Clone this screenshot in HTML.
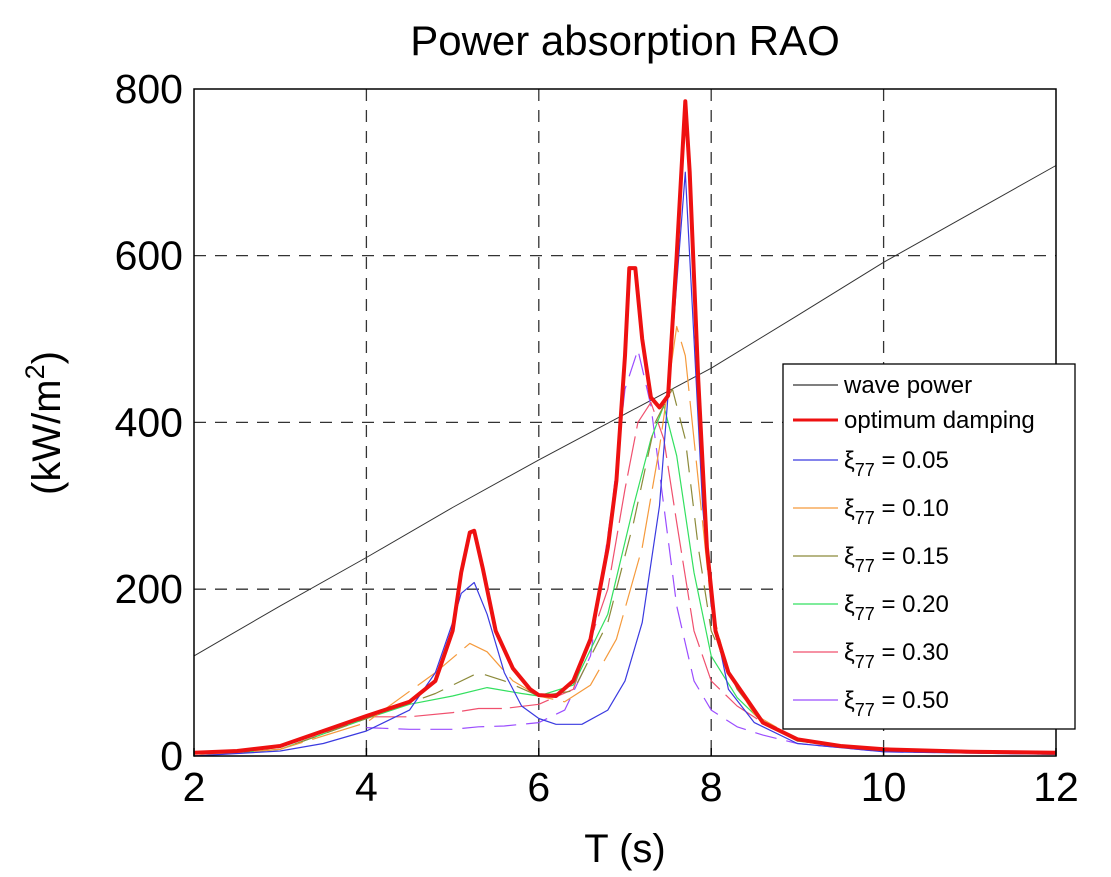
<!DOCTYPE html>
<html><head><meta charset="utf-8"><style>
body{margin:0;background:#fff;}
svg{display:block;font-family:"Liberation Sans",sans-serif;}
</style></head><body>
<svg id="chart" width="1111" height="877" viewBox="0 0 1111 877" xmlns="http://www.w3.org/2000/svg">
<text x="625" y="55" font-size="42" text-anchor="middle">Power absorption RAO</text>
<g id="grid"></g>
<g id="series"></g>
<rect x="194" y="89" width="862" height="667" fill="none" stroke="#000" stroke-width="1.5"/>
<g id="ticks"></g>
<text x="625" y="862" font-size="40" text-anchor="middle">T (s)</text>
<text transform="translate(60,423) rotate(-90)" font-size="40" text-anchor="middle">(kW/m<tspan font-size="27" dy="-16">2</tspan><tspan dy="16">)</tspan></text>
<g id="legend"></g>
</svg>
<script>
const xTicks=[2,4,6,8,10,12];
const yTicks=[0,200,400,600,800];
const tWave=[2,3,4,5,6,7,8,9,10,11,12];
const vWave=[120,180,238,298,355,410,465,528,592,650,708];
const tOpt=[2,2.5,3,3.5,4,4.5,4.8,5.0,5.1,5.2,5.25,5.35,5.5,5.7,5.9,6.0,6.2,6.4,6.6,6.8,6.9,7.0,7.05,7.12,7.2,7.3,7.4,7.5,7.6,7.7,7.75,7.85,7.95,8.05,8.2,8.4,8.6,9,9.5,10,11,12];
const vOpt=[4,6,12,30,48,65,90,150,220,268,270,225,150,105,80,73,72,90,140,250,330,480,585,585,500,430,418,432,600,785,700,450,250,150,100,70,40,20,12,8,5,4];
const t05=[2,3,3.5,4,4.5,4.8,5.0,5.1,5.25,5.4,5.6,5.8,6.0,6.2,6.5,6.8,7.0,7.2,7.4,7.55,7.7,7.8,7.9,8.0,8.2,8.5,9,10,12];
const v05=[0,6,15,30,55,100,160,195,208,170,100,60,45,38,38,55,90,160,300,500,700,500,300,180,80,40,15,5,2];
const t10=[2,3,4,4.8,5.2,5.4,5.7,6.0,6.3,6.6,6.9,7.2,7.4,7.6,7.7,7.85,8.0,8.2,8.5,9,10,12];
const v10=[0,8,40,100,135,125,90,72,65,85,140,250,370,515,480,330,180,100,50,20,6,2];
const t15=[2,3,4,4.8,5.3,5.6,6.0,6.4,6.8,7.1,7.35,7.55,7.7,7.85,8.0,8.3,8.6,9,10,12];
const v15=[0,8,45,75,100,90,72,78,160,280,400,440,380,250,150,80,40,18,6,2];
const t20=[2,3,4,4.5,5.0,5.4,5.8,6.0,6.4,6.8,7.1,7.3,7.45,7.6,7.8,8.0,8.3,8.6,9,10,12];
const v20=[0,8,45,62,72,82,75,72,85,170,300,380,420,360,220,120,70,40,18,6,2];
const t30=[4,4.5,5.0,5.3,5.6,6.0,6.4,6.8,7.0,7.15,7.3,7.45,7.6,7.8,8.0,8.3,8.6,9,10,12];
const v30=[47,47,52,57,57,62,80,200,320,400,424,380,280,150,90,60,40,18,6,2];
const t50=[4,4.5,5.0,5.3,5.6,6.0,6.3,6.6,6.85,7.0,7.15,7.3,7.45,7.6,7.8,8.0,8.3,8.6,9,10,12];
const v50=[34,32,32,35,36,40,55,120,300,440,487,420,300,180,90,55,35,25,15,5,2];
const legendLabels=["wave power","optimum damping","0.05","0.10","0.15","0.20","0.30","0.50"];

const NS="http://www.w3.org/2000/svg";
const X=t=>194+(t-2)*86.2;
const Y=v=>756-v*0.834;
function mk(tag,attrs,parent){const e=document.createElementNS(NS,tag);for(const k in attrs)e.setAttribute(k,attrs[k]);parent.appendChild(e);return e;}
const grid=document.getElementById('grid'),ticks=document.getElementById('ticks'),ser=document.getElementById('series'),leg=document.getElementById('legend');
xTicks.forEach(t=>{
  if(t>2&&t<12){const l=mk('line',{x1:X(t),x2:X(t),y1:89,y2:756,stroke:'#333','stroke-width':1.3,'stroke-dasharray':'12 9'},grid);
  
  }
  const tl=mk('text',{x:X(t),y:801,'font-size':41,'text-anchor':'middle'},ticks);tl.textContent=t;
  
  
  const tm=mk('line',{x1:X(t),x2:X(t),y1:756,y2:748,stroke:'#000','stroke-width':1.5},ticks);
  
  
});
yTicks.forEach(v=>{
  if(v>0&&v<800){const l=mk('line',{x1:194,x2:1056,y1:Y(v),y2:Y(v),stroke:'#333','stroke-width':1.3,'stroke-dasharray':'12 9'},grid);
  
  }
  const tl=mk('text',{x:183,y:Y(v)+14,'font-size':41,'text-anchor':'end'},ticks);tl.textContent=v;
  
  
});
const series=[
 [tWave,vWave,'#333',1,null,'wave-power-line'],
 [t50,v50,'#9b4dff',1.2,'22 10','xi-0.50-line'],
 [t30,v30,'#f0506e',1.2,'40 8','xi-0.30-line'],
 [t20,v20,'#33e060',1.2,null,'xi-0.20-line'],
 [t15,v15,'#8c8a3a',1.2,'22 12','xi-0.15-line'],
 [t10,v10,'#f59a3c',1.2,'50 10','xi-0.10-line'],
 [t05,v05,'#3a3ae0',1.2,null,'xi-0.05-line'],
 [tOpt,vOpt,'#ee1111',4,null,'optimum-damping-line']
];
series.forEach(s=>{
  const pts=s[0].map((t,i)=>X(t).toFixed(1)+','+Y(s[1][i]).toFixed(1)).join(' ');
  const a={points:pts,fill:'none',stroke:s[2],'stroke-width':s[3],'stroke-linejoin':'round'};
  if(s[4])a['stroke-dasharray']=s[4];
  const p=mk('polyline',a,ser);
  
  
});
const box=mk('rect',{x:783,y:364,width:292,height:365,fill:'#fff',stroke:'#000','stroke-width':1.3},leg);


const legColors=['#333','#ee1111','#3a3ae0','#f59a3c','#8c8a3a','#33e060','#f0506e','#9b4dff'];
const legY=[385,420,460,508,556,604,652,700];
legendLabels.forEach((lab,i)=>{
  const g=mk('g',{},leg);
  
  
  mk('line',{x1:793,x2:838,y1:legY[i],y2:legY[i],stroke:legColors[i],'stroke-width':i==1?3:1.2},g);
  const tx=mk('text',{x:844,y:legY[i]+8,'font-size':24},g);
  if(i<2){tx.textContent=lab;}
  else{tx.innerHTML='ξ<tspan font-size="18" dy="8">77</tspan><tspan dy="-8"> = '+lab+'</tspan>';}
});
</script>
</body></html>
